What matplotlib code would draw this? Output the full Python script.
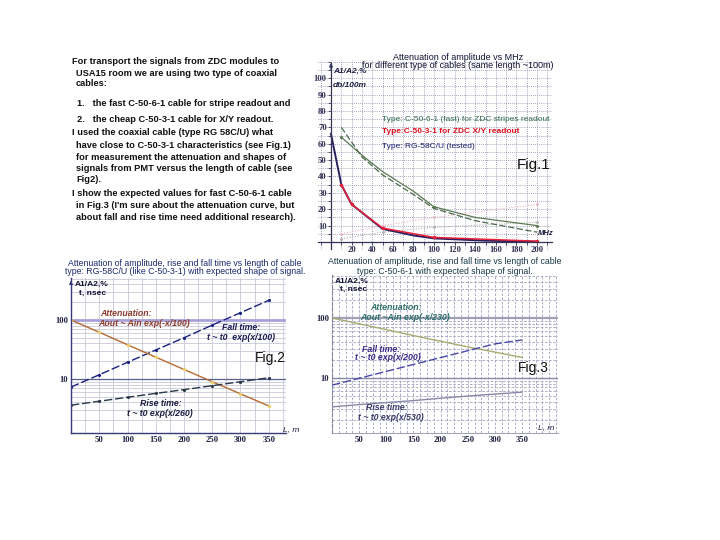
import numpy as np
import matplotlib
matplotlib.use('Agg')
import matplotlib.pyplot as plt
from matplotlib.ticker import MultipleLocator, FixedLocator, NullFormatter

plt.rcParams['font.family'] = ['Liberation Sans', 'DejaVu Sans']

# ---- Fig.1 : attenuation vs MHz (same length ~100 m)
mhz_tested = [0, 10, 20, 50, 80, 100, 150, 200]
att_tested = [66, 35, 23, 8, 4, 2.2, 0.8, 0.2]
mhz_cheap = [10, 20, 50, 100, 200]
att_cheap = [35, 23, 8.5, 2.8, 0.5]
mhz_fast = [10, 30, 50, 80, 100, 140, 200]
att_fast = [64, 53, 43, 31, 21.5, 15, 10]
att_fast_dash = [70, 52, 41, 29, 20.5, 13, 6]
mhz_aux = [10, 50, 100, 200]
aux_pink = [5, 10, 15, 23]
aux_gray = [2, 6, 9, 12]

# ---- Fig.2 : RG-58C/U vs length
len2 = [0, 50, 100, 150, 200, 250, 300, 350]
att2 = [100, 62, 38, 23.5, 14.5, 9, 5.6, 3.5]
fall2 = [7.3, 11.8, 19.2, 31, 50, 82, 133, 215]
rise2 = [3.6, 4.2, 4.9, 5.7, 6.6, 7.7, 9, 10.5]

# ---- Fig.3 : C-50-6-1 vs length
len3 = [0, 50, 100, 150, 200, 250, 300, 350]
att3 = [100, 80, 64, 51, 41, 33, 27, 22]
fall3 = [7.6, 9.9, 12.9, 16.8, 21.9, 28.5, 37, 43]
rise3 = [3.3, 3.6, 3.9, 4.2, 4.6, 5.0, 5.4, 5.8]

W, H = 720, 540
fig = plt.figure(figsize=(7.2, 5.4), dpi=100)


def px_axes(x0, y0, x1, y1):
    return fig.add_axes([x0 / W, 1 - y1 / H, (x1 - x0) / W, (y1 - y0) / H])


def ftext(x, y, s, **kw):
    kw.setdefault('va', 'center')
    fig.text(x / W, 1 - y / H, s, **kw)


# ---------------- left text block
lines = [
    (72, 62, 'For transport the signals from ZDC modules to'),
    (76, 73, 'USA15 room we are using two type of coaxial'),
    (76, 84, 'cables:'),
    (77, 103, '1.   the fast C-50-6-1 cable for stripe readout and'),
    (77, 119, '2.   the cheap C-50-3-1 cable for X/Y readout.'),
    (72, 133, 'I used the coaxial cable (type RG 58C/U) what'),
    (76, 145, 'have close to C-50-3-1 characteristics (see Fig.1)'),
    (76, 157, 'for measurement the attenuation and shapes of'),
    (76, 169, 'signals from PMT versus the length of cable (see'),
    (76, 180, 'Fig2).'),
    (72, 194, 'I show the expected values for fast C-50-6-1 cable'),
    (76, 206, 'in Fig.3 (I\'m sure about the attenuation curve, but'),
    (76, 218, 'about fall and rise time need additional research).'),
]
for x, y, s in lines:
    ftext(x, y, s, fontsize=6.7, fontweight='bold', color='#111111')

note = dict(fontsize=6.3, style='italic', fontweight='bold')

# ---------------- Fig.1
ax1 = px_axes(318, 60, 552, 250)
ax1.set_xlim((318 - 331) / 1.03, (552 - 331) / 1.03)
ax1.set_ylim((242 - 250) / 1.638, (242 - 60) / 1.638)
ax1.patch.set_alpha(0)
for s in ['top', 'right']:
    ax1.spines[s].set_visible(False)
ax1.spines['left'].set_position(('data', 0))
ax1.spines['bottom'].set_position(('data', 0))
ax1.spines['left'].set_bounds(-4, 109)
for s in ['left', 'bottom']:
    ax1.spines[s].set_color('#333355')
    ax1.spines[s].set_linewidth(0.9)
ax1.xaxis.set_major_locator(FixedLocator(np.arange(20, 201, 20)))
ax1.yaxis.set_major_locator(FixedLocator(np.arange(10, 101, 10)))
ax1.xaxis.set_minor_locator(MultipleLocator(10))
ax1.yaxis.set_minor_locator(MultipleLocator(5))
ax1.tick_params(which='both', length=2, width=0.6, colors='#333355', labelsize=6.2, pad=1)
for lab in ax1.get_xticklabels() + ax1.get_yticklabels():
    lab.set_family('Liberation Serif')
    lab.set_fontweight('bold')
ax1.grid(which='both', color='#8888aa', linestyle=(0, (1, 1.5)), linewidth=0.6)
ax1.set_axisbelow(True)
ax1.plot(mhz_aux, aux_pink, color='#e8b0c0', linestyle=(0, (1, 1.5)), lw=0.8, marker='.', ms=2)
ax1.plot(mhz_aux, aux_gray, color='#b0b0b0', linestyle=(0, (1, 1.5)), lw=0.8, marker='.', ms=2)
ax1.plot(mhz_fast, att_fast, color='#5d7a55', lw=0.9, marker='.', ms=2.5, markevery=[0, 4, 6])
ax1.plot(mhz_fast, att_fast_dash, color='#4a6a4a', lw=0.9, linestyle=(0, (5, 2)))
ax1.plot(mhz_tested, att_tested, color='#2a2060', lw=1.4)
ax1.plot(mhz_cheap, att_cheap, color='#e8203a', lw=1.1, marker='.', ms=3)
ax1.annotate('', xy=(0, 111), xytext=(0, 103),
             arrowprops=dict(arrowstyle='-|>', color='#333355', lw=0.8, mutation_scale=5))
ax1.text(2, 104, 'A1/A2,%', fontsize=6, style='italic', fontweight='bold', color='#222244', va='center')
ax1.text(2, 95.5, 'db/100m', fontsize=6, style='italic', fontweight='bold', color='#222244', va='center')
ax1.text(208, 5, 'MHz', fontsize=5.5, style='italic', fontweight='bold', color='#222244', va='center', ha='center')
ax1.text(50, 75, 'Type: C-50-6-1 (fast) for ZDC stripes readout', fontsize=6.0, color='#2e6b4a', va='center')
ax1.text(50, 67.5, 'Type:C-50-3-1 for ZDC X/Y readout', fontsize=6.0, color='#e01020', va='center',
         fontweight='bold')
ax1.text(50, 58, 'Type: RG-58C/U (tested)', fontsize=6.0, color='#1c1c6e', va='center')
ax1.text(180, 47, 'Fig.1', fontsize=11, color='#111111', va='center')
ftext(458, 57, 'Attenuation of amplitude vs MHz', fontsize=6.5, color='#111133', ha='center')
ftext(458, 66, 'for different type of cables (same length ~100m)', fontsize=6.5, color='#111133', ha='center')

# ---------------- Fig.2
ax2 = px_axes(71, 278, 286, 433)
ax2.set_yscale('log')
ax2.set_xlim(0, (286 - 71) / 0.565)
ax2.set_ylim(10 ** (1 - 54 / 59), 10 ** (1 + 101 / 59))
ax2.patch.set_alpha(0)
for s in ['top', 'right']:
    ax2.spines[s].set_visible(False)
for s in ['left', 'bottom']:
    ax2.spines[s].set_color('#3a3a7a')
    ax2.spines[s].set_linewidth(1.0)
ax2.xaxis.set_major_locator(FixedLocator(np.arange(50, 351, 50)))
ax2.xaxis.set_minor_locator(MultipleLocator(25))
ax2.yaxis.set_major_locator(FixedLocator([10, 100]))
ax2.yaxis.set_minor_locator(FixedLocator([m * 10 ** e for e in range(0, 3) for m in range(2, 10)]))
ax2.yaxis.set_minor_formatter(NullFormatter())
ax2.set_yticklabels(['10', '100'])
ax2.tick_params(which='both', length=0, labelsize=6.2, pad=2, colors='#222244')
for lab in ax2.get_xticklabels() + ax2.get_yticklabels():
    lab.set_family('Liberation Serif')
    lab.set_fontweight('bold')
ax2.grid(which='both', color='#c8c8d8', linewidth=0.6)
ax2.set_axisbelow(True)
ax2.axhline(100, color='#a8a0d8', lw=2.0)
ax2.axhline(10, color='#5a6090', lw=0.9)
ax2.plot(len2, fall2, color='#1a2080', lw=1.0, linestyle=(0, (6, 2)), marker='.', ms=2.5)
ax2.plot(len2, att2, color='#b86a30', lw=1.0, marker='.', ms=3, mfc='#e8d070', mec='#e8d070')
ax2.plot(len2, rise2, color='#2a3848', lw=1.0, linestyle=(0, (6, 2)), marker='.', ms=2.5)
ax2.annotate('', xy=(0, 520), xytext=(0, 380), annotation_clip=False,
             arrowprops=dict(arrowstyle='-|>', color='#3a3a7a', lw=0.8, mutation_scale=5))
ftext(75, 284, 'A1/A2,%', fontsize=6, color='#111133', fontweight='bold')
ftext(79, 293, 't, nsec', fontsize=6, color='#111133', fontweight='bold')
ftext(100, 313, 'Attenuation:', color='#8b3a2a', **note)
ftext(98, 323, 'Aout ~ Ain exp(-x/100)', color='#8b3a2a', **note)
ftext(222, 328, 'Fall time:', color='#1a1a50', **note)
ftext(207, 338, 't ~ t0  exp(x/100)', color='#1a1a50', **note)
ftext(255, 358, 'Fig.2', fontsize=10, color='#111111')
ftext(140, 404, 'Rise time:', color='#1a1a40', **note)
ftext(127, 414, 't ~ t0 exp(x/260)', color='#1a1a40', **note)
ftext(283, 430, 'L, m', fontsize=6, color='#1a1a40', style='italic')
ftext(185, 263, 'Attenuation of amplitude, rise and fall time vs length of cable',
      fontsize=6.3, color='#1a2a6e', ha='center')
ftext(185, 271, 'type: RG-58C/U (like C-50-3-1) with expected shape of signal.',
      fontsize=6.3, color='#1a2a6e', ha='center')

# ---------------- Fig.3
ax3 = px_axes(332, 275, 558, 433)
ax3.set_yscale('log')
ax3.set_xlim(0, (558 - 332) / 0.543)
ax3.set_ylim(10 ** (1 - 55 / 60), 10 ** (1 + 103 / 60))
ax3.patch.set_alpha(0)
for s in ['top', 'right']:
    ax3.spines[s].set_visible(False)
ax3.spines['left'].set_color('#8080a0')
ax3.spines['left'].set_linestyle((0, (3, 2)))
ax3.spines['left'].set_linewidth(0.8)
ax3.spines['bottom'].set_color('#9090a8')
ax3.spines['bottom'].set_linewidth(0.6)
ax3.xaxis.set_major_locator(FixedLocator(np.arange(50, 351, 50)))
ax3.xaxis.set_minor_locator(MultipleLocator(12.5))
ax3.yaxis.set_major_locator(FixedLocator([10, 100]))
ax3.yaxis.set_minor_locator(FixedLocator([m * 10 ** e for e in range(0, 3) for m in range(2, 10)]))
ax3.yaxis.set_minor_formatter(NullFormatter())
ax3.set_yticklabels(['10', '100'])
ax3.tick_params(which='both', length=0, labelsize=6.2, pad=2, colors='#222244')
for lab in ax3.get_xticklabels() + ax3.get_yticklabels():
    lab.set_family('Liberation Serif')
    lab.set_fontweight('bold')
ax3.grid(which='both', color='#a0a0c0', linewidth=0.6, linestyle=(0, (3, 2)))
ax3.set_axisbelow(True)
ax3.axhline(100, color='#a0a0b8', lw=1.6)
ax3.axhline(10, color='#8888a8', lw=1.0)
ax3.plot(len3, att3, color='#a8aa70', lw=1.0)
ax3.plot(len3, fall3, color='#4a48a8', lw=1.0, linestyle=(0, (6, 2)))
ax3.plot(len3, rise3, color='#8a88a8', lw=1.0)
ftext(335, 281, 'A1/A2,%', fontsize=6, color='#111133', fontweight='bold')
ftext(340, 289, 't, nsec', fontsize=6, color='#111133', fontweight='bold')
ftext(370, 307, 'Attenuation:', color='#2f6f6a', **note)
ftext(360, 317, 'Aout ~Ain exp(-x/230)', color='#2f6f6a', **note)
ftext(362, 349, 'Fall time:', color='#3a2a8a', **note)
ftext(355, 358, 't ~ t0 exp(x/200)', color='#3a2a8a', **note)
ftext(518, 368, 'Fig.3', fontsize=10, color='#111111')
ftext(366, 408, 'Rise time:', color='#3a3a6a', **note)
ftext(358, 418, 't ~ t0 exp(x/530)', color='#3a3a6a', **note)
ftext(538, 428, 'L, m', fontsize=6, color='#1a1a40', style='italic')
ftext(445, 262, 'Attenuation of amplitude, rise and fall time vs length of cable',
      fontsize=6.3, color='#1a3a4a', ha='center')
ftext(445, 271, 'type: C-50-6-1 with expected shape of signal.',
      fontsize=6.3, color='#1a3a4a', ha='center')

fig.savefig('out.png', dpi=100)
